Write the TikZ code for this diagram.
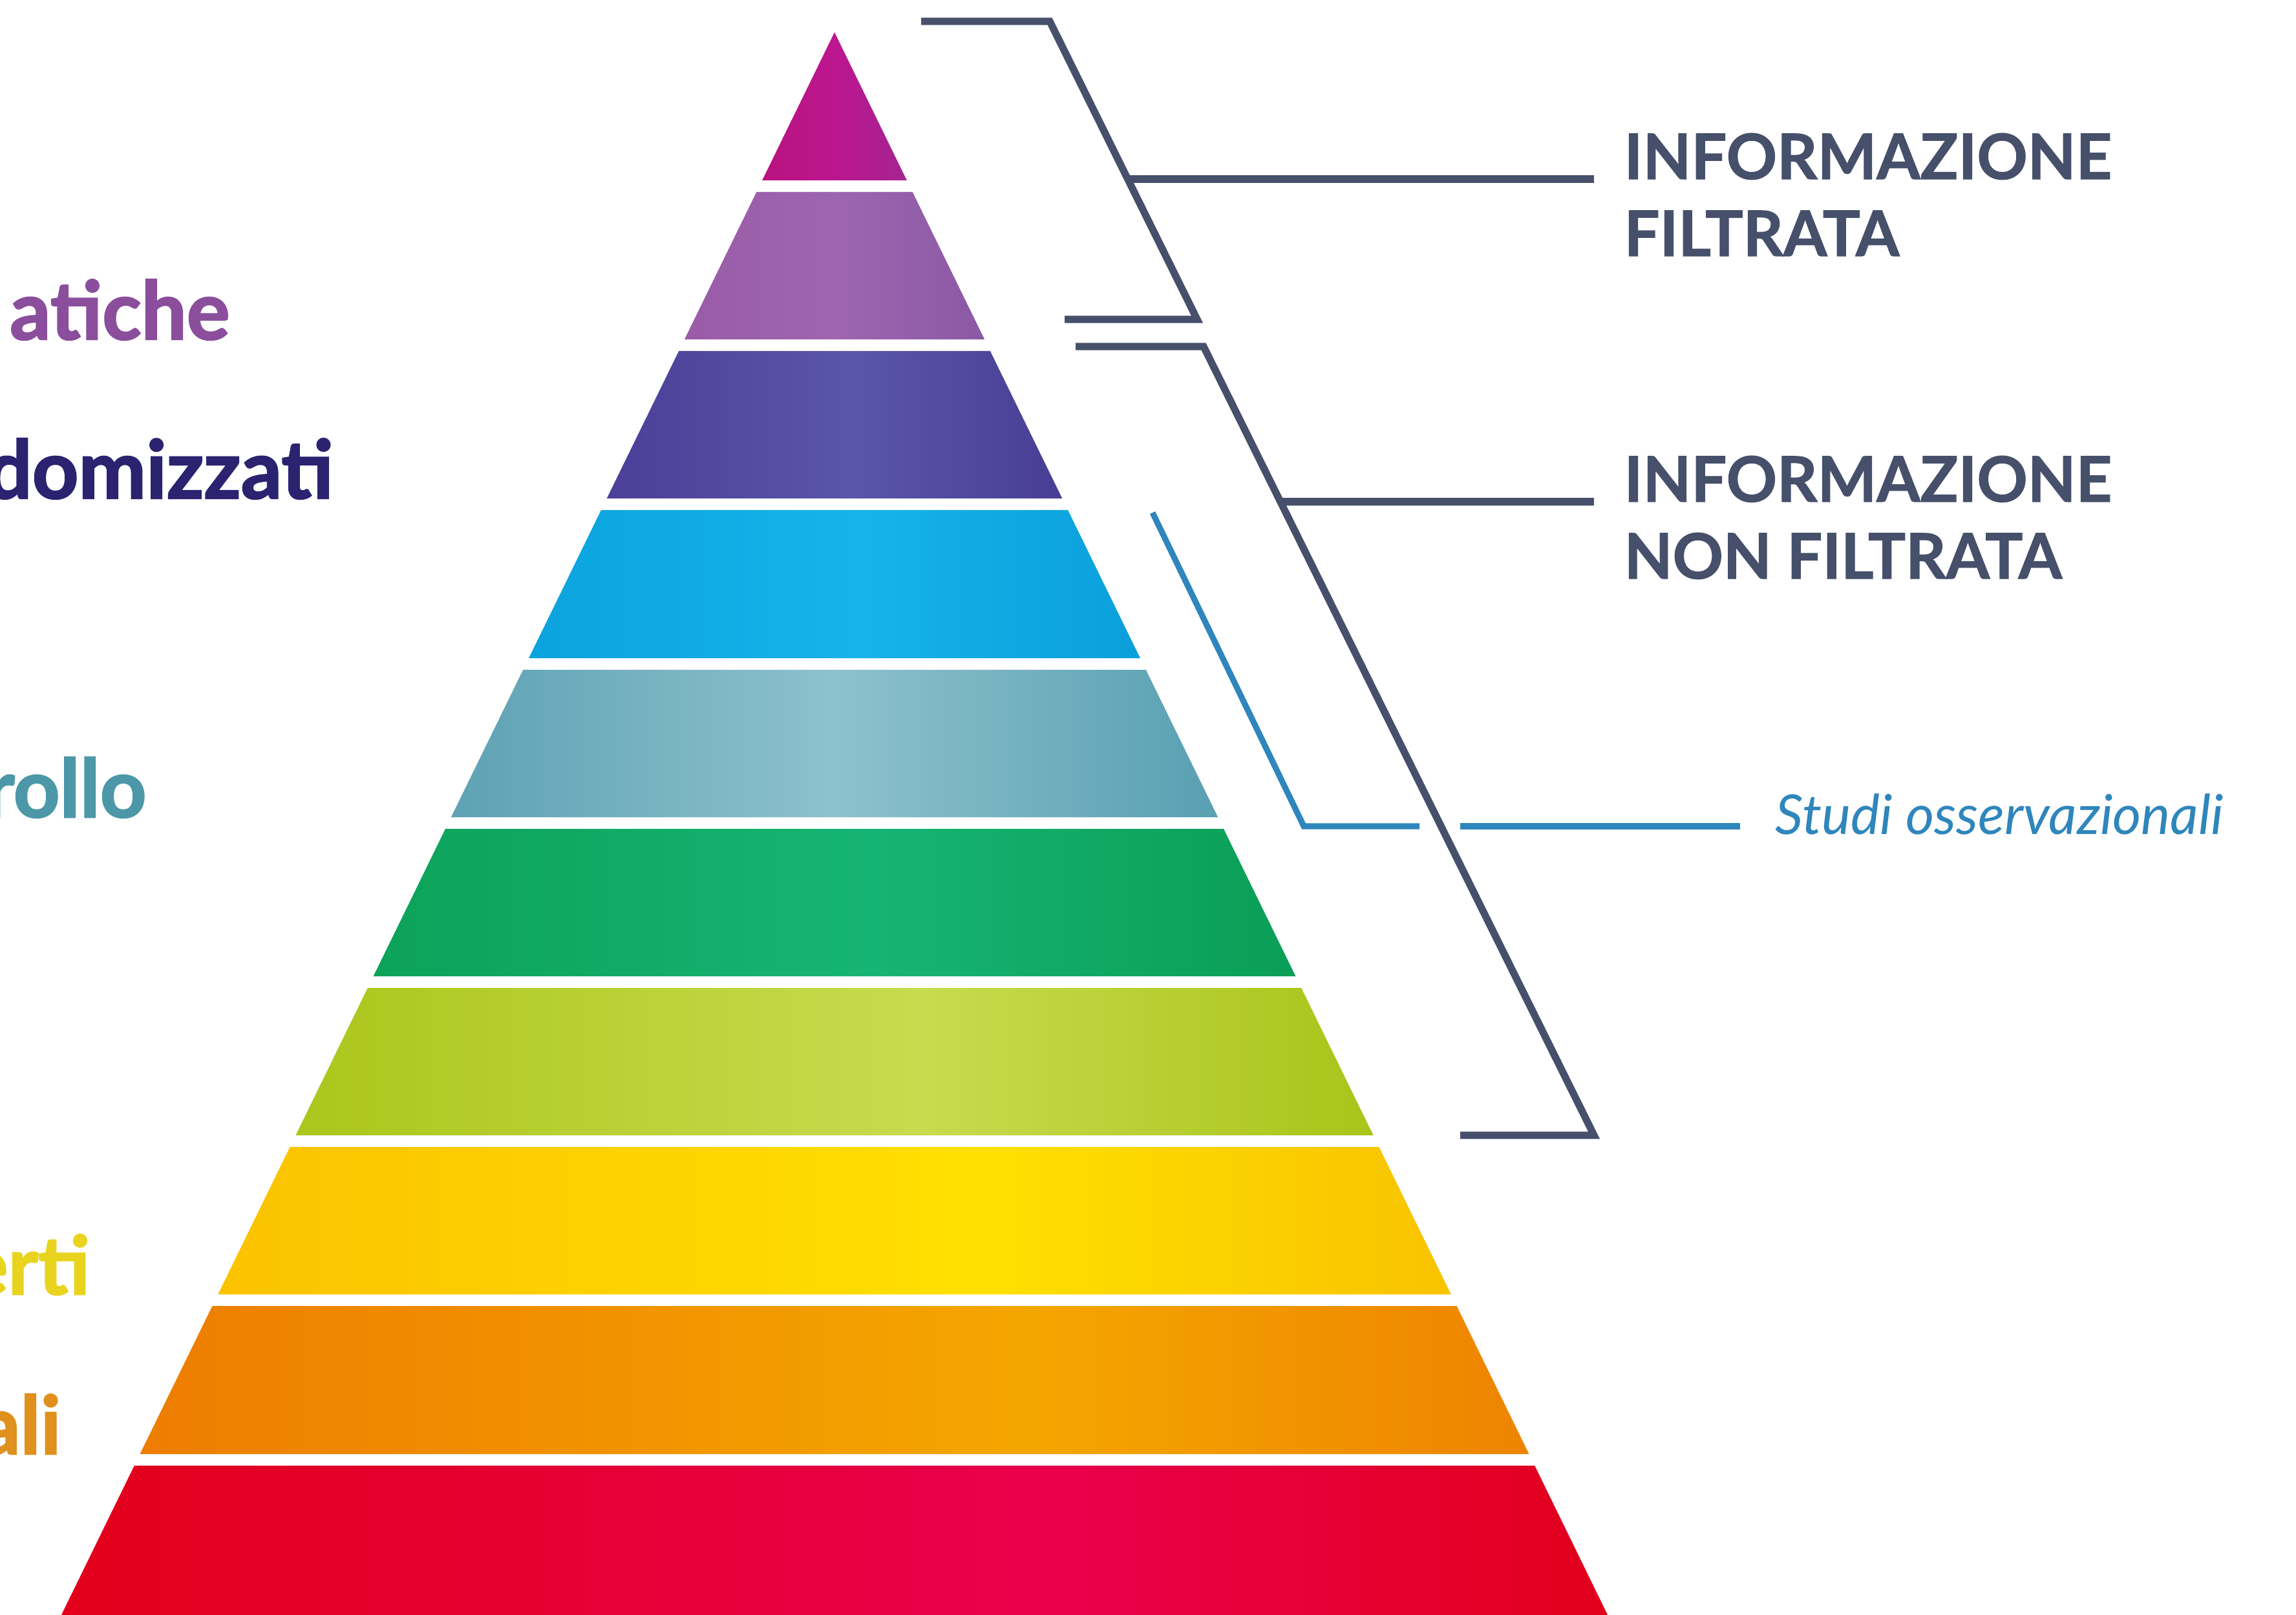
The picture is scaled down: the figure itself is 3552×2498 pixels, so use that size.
\documentclass[tikz,border=0pt]{standalone}
\usepackage{fontspec}
\setmainfont{Lato}
\newfontfamily\latoheavy{Lato}[BoldFeatures={FakeBold=2}]
\newfontfamily\latomid{Lato}[BoldFeatures={FakeBold=1.2}]
\definecolor{slate}{HTML}{46506B}
\definecolor{obsblue}{HTML}{2E86BC}
\definecolor{txtpurple}{HTML}{8A4E9C}
\definecolor{txtindigo}{HTML}{2B2270}
\definecolor{txtteal}{HTML}{4C98A8}
\definecolor{txtyellow}{HTML}{E8D41E}
\definecolor{txtorange}{HTML}{E0901C}
% band colours: left / middle / right
\definecolor{aL}{HTML}{B8137E}\definecolor{aM}{HTML}{BC1690}\definecolor{aR}{HTML}{A52490}
\definecolor{bL}{HTML}{9A5BA7}\definecolor{bM}{HTML}{9E66B0}\definecolor{bR}{HTML}{8B58A5}
\definecolor{cL}{HTML}{4B3F97}\definecolor{cM}{HTML}{5A56A8}\definecolor{cR}{HTML}{483E95}
\definecolor{dL}{HTML}{0AA3DE}\definecolor{dM}{HTML}{16B3EA}\definecolor{dR}{HTML}{0A9FDB}
\definecolor{eL}{HTML}{5EA2B4}\definecolor{eM}{HTML}{8DC1CD}\definecolor{eR}{HTML}{59A0B2}
\definecolor{fL}{HTML}{0CA259}\definecolor{fM}{HTML}{16B474}\definecolor{fR}{HTML}{0A9E55}
\definecolor{gL}{HTML}{ABC61C}\definecolor{gM}{HTML}{C7DB4E}\definecolor{gR}{HTML}{A9C41A}
\definecolor{hL}{HTML}{FBC200}\definecolor{hM}{HTML}{FFE000}\definecolor{hR}{HTML}{F8C300}
\definecolor{iL}{HTML}{EE7D00}\definecolor{iM}{HTML}{F4A600}\definecolor{iR}{HTML}{EE8400}
\definecolor{jL}{HTML}{E2001A}\definecolor{jM}{HTML}{E8004C}\definecolor{jR}{HTML}{E0001A}
\newcommand{\mkbandshade}[2]{%
  \pgfdeclarehorizontalshading{band#1}{100bp}{color(0bp)=(#1L); color(25bp)=(#1L); color(#2bp)=(#1M); color(75bp)=(#1R); color(100bp)=(#1R)}}
\mkbandshade{a}{50}
\mkbandshade{b}{50}
\mkbandshade{c}{52}
\mkbandshade{d}{52}
\mkbandshade{e}{50}
\mkbandshade{f}{52}
\mkbandshade{g}{54}
\mkbandshade{h}{56}
\mkbandshade{i}{57}
\mkbandshade{j}{57}
\begin{document}
\begin{tikzpicture}[x=0.01cm,y=-0.01cm,
  brk/.style={draw=slate, line width=3.2pt, line join=miter, line cap=butt},
  obsline/.style={draw=obsblue, line width=2.6pt, line join=miter},
  infolab/.style={inner sep=0pt, text=slate, font=\latomid\bfseries\fontsize{27.6}{30}\selectfont},
  obslab/.style={inner sep=0pt, text=obsblue, font=\itshape\fontsize{24.2}{28}\selectfont},
  leftlab/.style={inner sep=0pt, anchor=base east, font=\latoheavy\bfseries\fontsize{35.5}{40}\selectfont}]
\useasboundingbox (0,0) rectangle (3552,2498);
\clip (0,0) rectangle (3552,2498);
\fill[white] (0,0) rectangle (3552,2498);
% pyramid bands
\foreach \n/\t/\b in {a/50/279, b/297/525, c/543/771, d/789/1018, e/1036/1264,
                      f/1282/1510, g/1528/1756, h/1774/2002, i/2020/2249, j/2267/2540}{
  \pgfmathsetmacro\xtl{1291-0.4886*(\t-50)}
  \pgfmathsetmacro\xtr{1291+0.4886*(\t-50)}
  \pgfmathsetmacro\xbl{1291-0.4886*(\b-50)}
  \pgfmathsetmacro\xbr{1291+0.4886*(\b-50)}
  \shade[shading=band\n] (\xtl,\t) -- (\xtr,\t) -- (\xbr,\b) -- (\xbl,\b) -- cycle;
}
% left labels (cut by the page edge)
\node[leftlab, text=txtpurple] (lsr) at (356,525) {atiche};
\node[leftlab, text=txtindigo] (lrct) at (516,771) {domizzati};
\node[leftlab, text=txtteal] (lcc) at (227,1264) {rollo};
\node[leftlab, text=txtyellow] (lexp) at (140,2002) {erti};
\node[leftlab, text=txtorange] (lani) at (95,2249) {ali};
% right labels
\node[infolab, anchor=base west] (f1) at (2512,277) {INFORMAZIONE};
\node[infolab, anchor=base west] (f2) at (2512,396) {FILTRATA};
\node[infolab, anchor=base west] (n1) at (2512,776) {INFORMAZIONE};
\node[infolab, anchor=base west] (n2) at (2512,895) {NON FILTRATA};
\node[obslab, anchor=base west] (so) at (2746,1290) {Studi osservazionali};
% bracket 1
\coordinate (b1s) at (1425,33);
\coordinate (b1c) at (1624,33);
\coordinate (b1d) at (1852,494);
\coordinate (b1e) at (1647,494);
\coordinate (b1m) at (1745,277);
\coordinate (b1t) at (2466,277);
\draw[brk] (b1s) -- (b1c) -- (b1d) -- (b1e);
\draw[brk] (b1m) -- (b1t);
% bracket 2
\coordinate (b2s) at (1664,536);
\coordinate (b2c) at (1862,536);
\coordinate (b2d) at (2466,1756);
\coordinate (b2e) at (2259,1756);
\coordinate (b2m) at (1981,776);
\coordinate (b2t) at (2466,776);
\draw[brk] (b2s) -- (b2c) -- (b2d) -- (b2e);
\draw[brk] (b2m) -- (b2t);
% bracket 3 (observational studies)
\coordinate (b3s) at (1783,793);
\coordinate (b3c) at (2017,1278);
\coordinate (b3g1) at (2196,1278);
\coordinate (b3g2) at (2259,1278);
\coordinate (b3t) at (2692,1278);
\draw[obsline] (b3s) -- (b3c) -- (b3g1);
\draw[obsline] (b3g2) -- (b3t);
\end{tikzpicture}
\end{document}
